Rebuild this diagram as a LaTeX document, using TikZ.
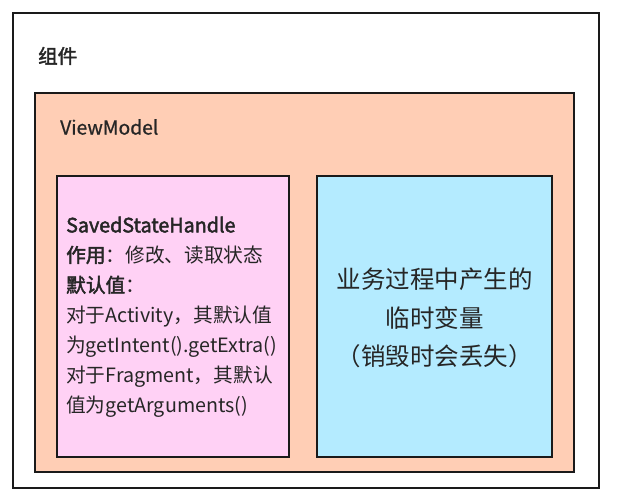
\documentclass[tikz,border=0pt]{standalone}
\usepackage{fontspec}
\setmainfont{Noto Sans CJK SC}
\newfontfamily\semibold{Noto Sans CJK SC}[FakeBold=2.3]
\newfontfamily\mediumw{Noto Sans CJK SC}[FakeBold=0.8]
\definecolor{peach}{RGB}{255,206,181}
\definecolor{pinkbox}{RGB}{255,209,245}
\definecolor{bluebox}{RGB}{180,235,255}
\definecolor{edge}{RGB}{26,26,26}
\begin{document}
\begin{tikzpicture}[x=1pt,y=-1pt,
  box/.style={draw=edge, line width=2.2pt, anchor=north west, inner sep=0pt, outer sep=0pt},
  lbl/.style={anchor=west, inner sep=0pt, text=black!85}]
\useasboundingbox (0,0) rectangle (628,502);
\node[box, fill=white, minimum width=586pt, minimum height=475pt] (outer) at (13,13) {};
\node[box, fill=peach, minimum width=539pt, minimum height=379pt] (vm) at (35,93) {};
\node[box, fill=pinkbox, minimum width=232pt, minimum height=281pt] (ssh) at (57,176) {};
\node[box, fill=bluebox, minimum width=235pt, minimum height=281pt] (tmp) at (317,176) {};
\node[lbl, font=\fontsize{19.5}{24}\selectfont\semibold] (t1) at (38,56) {组件};
\node[lbl, font=\fontsize{19.3}{24}\selectfont\mediumw] (t2) at (60,127) {ViewModel};
\node[lbl, align=left, font=\fontsize{19.7}{30}\selectfont] (t3) at (66,317) {{\semibold SavedStateHandle}\\
{\semibold 作用}：修改、读取状态\\
{\semibold 默认值}：\\
对于Activity，其默认值\\
为getIntent().getExtra()\\
对于Fragment，其默认\\
值为getArguments()};
\node[anchor=center, align=center, inner sep=0pt, text=black!85, font=\fontsize{24.5}{38.5}\selectfont] (t4) at (434.5,318) {业务过程中产生的\\临时变量\\（销毁时会丢失）};
\end{tikzpicture}
\end{document}
